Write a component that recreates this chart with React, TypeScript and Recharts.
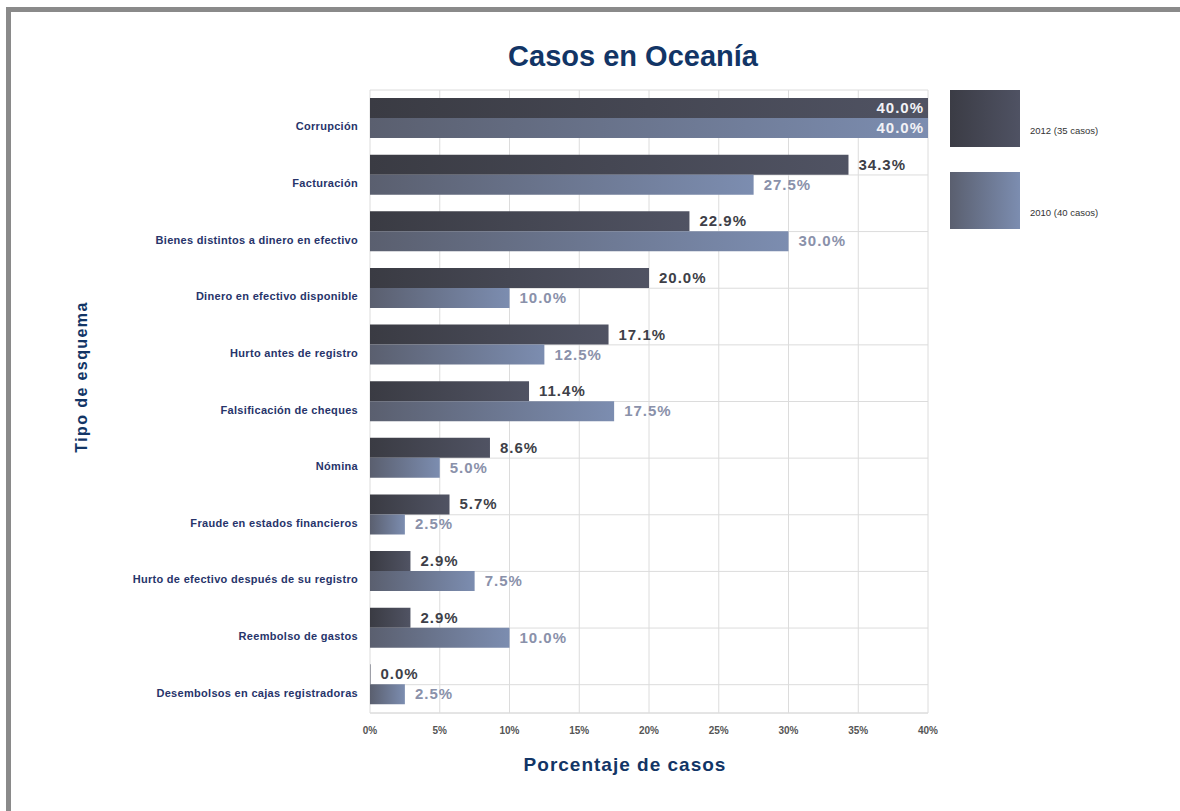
import React from 'react';
import { BarChart, Bar, XAxis, YAxis, CartesianGrid, LabelList } from 'recharts';

const categories = [
  'Corrupción',
  'Facturación',
  'Bienes distintos a dinero en efectivo',
  'Dinero en efectivo disponible',
  'Hurto antes de registro',
  'Falsificación de cheques',
  'Nómina',
  'Fraude en estados financieros',
  'Hurto de efectivo después de su registro',
  'Reembolso de gastos',
  'Desembolsos en cajas registradoras',
];
const cases2012 = [40.0, 34.3, 22.9, 20.0, 17.1, 11.4, 8.6, 5.7, 2.9, 2.9, 0.0];
const cases2010 = [40.0, 27.5, 30.0, 10.0, 12.5, 17.5, 5.0, 2.5, 7.5, 10.0, 2.5];
const xTicks = [0, 5, 10, 15, 20, 25, 30, 35, 40];
const seriesNames = ['2012 (35 casos)', '2010 (40 casos)'];

const data = categories.map((name, i) => ({ name, y2012: cases2012[i], y2010: cases2010[i] }));

const FONT = '"Liberation Sans", Arial, sans-serif';
const NAVY = '#123566';

const CategoryTick = (props: any) => {
  const { x, y, payload } = props;
  return (
    <text x={x - 4} y={y + 12} textAnchor="end" fontFamily={FONT} fontSize={11} fontWeight="bold" fill="#27346a" letterSpacing={0.3}>
      {payload.value}
    </text>
  );
};

// value labels: white inside the bar for full-width bars, outside otherwise
const makeLabel = (color: string) => (props: any) => {
  const { x, y, width, height, value } = props;
  const txt = `${Number(value).toFixed(1)}%`;
  const cy = y + height / 2 + 5;
  if (value >= 40) {
    return (
      <text x={x + width - 4} y={cy} textAnchor="end" fontFamily={FONT} fontSize={15} fontWeight="bold" fill="#f2f2f6" letterSpacing={1}>
        {txt}
      </text>
    );
  }
  return (
    <text x={x + Math.max(width, 0) + 10} y={cy} textAnchor="start" fontFamily={FONT} fontSize={15} fontWeight="bold" fill={color} letterSpacing={1}>
      {txt}
    </text>
  );
};

const LegendBox = () => (
  <div style={{ position: 'absolute', left: 950, top: 90, fontFamily: FONT }}>
    <div style={{ position: 'relative', height: 82 }}>
      <div style={{ position: 'absolute', left: 0, top: 0, width: 70, height: 57, background: 'linear-gradient(to right, #3b3c45, #4f5263)' }} />
      <span style={{ position: 'absolute', left: 80, top: 35, fontSize: 9.5, color: '#333', whiteSpace: 'nowrap' }}>{seriesNames[0]}</span>
    </div>
    <div style={{ position: 'relative', height: 57 }}>
      <div style={{ position: 'absolute', left: 0, top: 0, width: 70, height: 57, background: 'linear-gradient(to right, #5a5f6f, #7c8db0)' }} />
      <span style={{ position: 'absolute', left: 80, top: 35, fontSize: 9.5, color: '#333', whiteSpace: 'nowrap' }}>{seriesNames[1]}</span>
    </div>
  </div>
);

export default function App() {
  return (
    <div style={{ position: 'absolute', left: 0, top: 0, width: 1180, height: 811, overflow: 'hidden', background: '#fff' }}>
      <div style={{ position: 'absolute', left: 6, top: 7, width: 1180, height: 900, borderTop: '5px solid #8a8a8a', borderLeft: '5px solid #8a8a8a' }} />
      <div style={{ position: 'absolute', left: 0, top: 40, width: 1266, textAlign: 'center', fontFamily: FONT, fontWeight: 'bold', fontSize: 29, color: NAVY }}>
        Casos en Oceanía
      </div>
      <div style={{ position: 'absolute', left: 82, top: 377, transform: 'translate(-50%, -50%) rotate(-90deg)', fontFamily: FONT, fontWeight: 'bold', fontSize: 16, letterSpacing: 1.4, color: NAVY, whiteSpace: 'nowrap' }}>
        Tipo de esquema
      </div>
      <div style={{ position: 'absolute', left: 0, top: 754, width: 1250, textAlign: 'center', fontFamily: FONT, fontWeight: 'bold', fontSize: 19, letterSpacing: 1, color: NAVY }}>
        Porcentaje de casos
      </div>
      <LegendBox />
      <div style={{ position: 'absolute', left: 0, top: 0 }}>
        <BarChart
          width={1180}
          height={811}
          data={data}
          layout="vertical"
          margin={{ top: 90, right: 252, bottom: 68, left: 0 }}
          barGap={0}
        >
          <defs>
            <linearGradient id="g2012" x1="0" y1="0" x2="1" y2="0">
              <stop offset="0%" stopColor="#3a3b43" />
              <stop offset="100%" stopColor="#505363" />
            </linearGradient>
            <linearGradient id="g2010" x1="0" y1="0" x2="1" y2="0">
              <stop offset="0%" stopColor="#5a5f6f" />
              <stop offset="100%" stopColor="#7c8db0" />
            </linearGradient>
          </defs>
          <CartesianGrid stroke="#dcdcdc" />
          <XAxis
            type="number"
            domain={[0, 40]}
            ticks={xTicks}
            tickFormatter={(v: number) => `${v}%`}
            tickLine={false}
            axisLine={{ stroke: '#dcdcdc' }}
            tickMargin={8}
            height={30}
            tick={{ fontFamily: FONT, fontSize: 10, fontWeight: 'bold', fill: '#555' }}
            interval={0}
          />
          <YAxis
            type="category"
            dataKey="name"
            width={370}
            tickLine={false}
            axisLine={false}
            tick={<CategoryTick />}
            interval={0}
          />
          <Bar dataKey="y2012" name={seriesNames[0]} fill="url(#g2012)" barSize={20} minPointSize={0.5} isAnimationActive={false}>
            <LabelList dataKey="y2012" content={makeLabel('#3e3f48')} />
          </Bar>
          <Bar dataKey="y2010" name={seriesNames[1]} fill="url(#g2010)" barSize={20} isAnimationActive={false}>
            <LabelList dataKey="y2010" content={makeLabel('#8a91aa')} />
          </Bar>
        </BarChart>
      </div>
    </div>
  );
}
